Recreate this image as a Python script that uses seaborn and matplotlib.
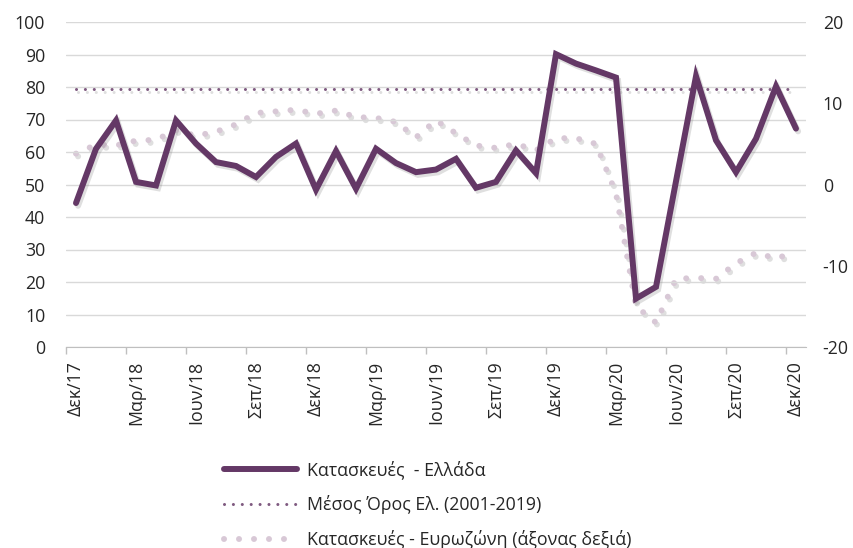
import pandas as pd
import numpy as np
import matplotlib
matplotlib.use('Agg')
import matplotlib.pyplot as plt
import seaborn as sns
from matplotlib import patheffects as pe
from matplotlib.lines import Line2D

# monthly data Dec 2017 - Dec 2020
month_names = ['Ιαν', 'Φεβ', 'Μαρ', 'Απρ', 'Μαϊ', 'Ιουν', 'Ιουλ', 'Αυγ', 'Σεπ', 'Οκτ', 'Νοε', 'Δεκ']
months = ['Δεκ/17'] + [m + '/' + y for y in ['18', '19', '20'] for m in month_names]

greece = [44.3, 61.0, 69.7, 50.8, 49.7, 69.7, 62.6, 56.9, 55.7, 52.3, 58.5, 62.6,
          48.4, 60.3, 48.7, 61.0, 56.6, 53.8, 54.6, 57.9, 49.0, 50.8, 60.5, 53.5,
          90.1, 87.2, 85.1, 82.9, 14.9, 18.5, 51.0, 83.3, 63.6, 53.8, 64.1, 80.2, 67.2]
eurozone = [3.8, 4.9, 4.8, 5.4, 5.5, 6.7, 6.0, 6.5, 7.4, 8.8, 9.0, 9.2,
            8.7, 9.1, 8.3, 8.2, 7.7, 5.8, 7.9, 6.3, 4.8, 4.5, 5.0, 4.2,
            5.7, 5.7, 5.0, -1.1, -15.0, -17.0, -11.6, -11.5, -11.6, -9.7, -8.4, -9.1, -8.3]
greece_mean = 79.4

labels = ['Κατασκευές  - Ελλάδα', 'Μέσος Όρος Ελ. (2001-2019)', 'Κατασκευές - Ευρωζώνη (άξονας δεξιά)']

df = pd.DataFrame({'idx': np.arange(len(months)), 'month': months,
                   'greece': greece, 'mean': [greece_mean] * len(months),
                   'eurozone': eurozone})

sns.set_style('white')
plt.rcParams['font.family'] = ['Open Sans', 'DejaVu Sans']
plt.rcParams['font.size'] = 12.8
plt.rcParams['axes.unicode_minus'] = False

c_gr = '#643866'
c_mean = '#7f5a80'
c_eu = '#d8c8d6'
shadow = [pe.SimpleLineShadow(offset=(1.5, -2), shadow_color='gray', alpha=0.25), pe.Normal()]

fig = plt.figure(figsize=(8.54, 5.48), dpi=100)
ax = fig.add_axes([66/854, 1-347/548, 740/854, 325/548])
ax2 = ax.twinx()

# eurozone on right axis (drawn behind)
sns.lineplot(data=df, x='idx', y='eurozone', ax=ax2, color=c_eu, lw=4.3,
             linestyle=(0, (0.01, 2.5)), dash_capstyle='round', path_effects=shadow)
sns.lineplot(data=df, x='idx', y='mean', ax=ax, color=c_mean, lw=2.2,
             linestyle=(0, (0.01, 2.9)), dash_capstyle='round', path_effects=shadow)
sns.lineplot(data=df, x='idx', y='greece', ax=ax, color=c_gr, lw=4.3,
             solid_joinstyle='miter', path_effects=shadow)
ax.set_zorder(ax2.get_zorder() + 1)
ax.patch.set_visible(False)

ax.set_ylim(0, 100)
ax.set_yticks(range(0, 101, 10))
ax2.set_ylim(-20, 20)
ax2.set_yticks([-20, -10, 0, 10, 20])
ax.set_xlim(-0.5, 36.5)
ax.set_xticks(np.arange(-0.5, 37, 3))
ax.set_xticklabels([])
ax.set_xticks(np.arange(0, 37, 3), minor=True)
ax.set_xticklabels([months[i] for i in range(0, 37, 3)], minor=True, rotation=90)
ax.tick_params(axis='x', which='major', length=5, width=1, color='#bfbfbf', direction='out', bottom=True)
ax.tick_params(axis='x', which='minor', length=0, pad=10, labelcolor='#262626')
ax.tick_params(axis='y', length=0, pad=15, labelcolor='#262626')
ax2.tick_params(axis='y', length=0, pad=12, labelcolor='#262626')
ax.set_xlabel('')
ax.set_ylabel('')
ax2.set_ylabel('')

ax.yaxis.grid(True, color='#d9d9d9', lw=1)
ax.set_axisbelow(True)
for a in (ax, ax2):
    for s in ['top', 'left', 'right', 'bottom']:
        a.spines[s].set_visible(False)
ax.spines['bottom'].set_visible(True)
ax.spines['bottom'].set_color('#bfbfbf')

handles = [Line2D([], [], color=c_gr, lw=4.3, solid_capstyle='round'),
           Line2D([], [], color=c_mean, lw=2.2, linestyle=(0, (0.01, 2.9)), dash_capstyle='round'),
           Line2D([], [], color=c_eu, lw=4.3, linestyle=(0, (0.01, 2.5)), dash_capstyle='round')]
fig.legend(handles, labels, loc='upper left', bbox_to_anchor=(0.262, 0.16), frameon=False,
           handlelength=4.1, handletextpad=0.6, labelspacing=0.9, borderpad=0, borderaxespad=0)

fig.savefig('out.png', dpi=100)
